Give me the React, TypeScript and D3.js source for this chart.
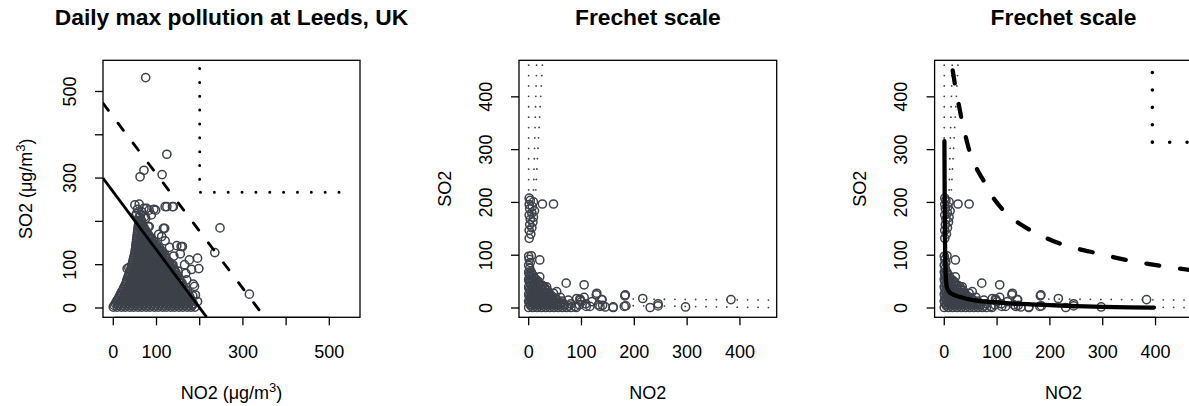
import React from 'react';
import * as d3 from 'd3';

const W = 1189;
const H = 406;
const PT = '#3d4149';
const FONT = '"Liberation Sans", Arial, Helvetica, sans-serif';

// ---------- Panel 1 data (raw scale, NO2 vs SO2) ----------
// dense core, rows: [so2, [no2 values]]
const coreRows1: [number, number[]][] = [
  [2, [0, 9, 19, 28, 38, 47, 57, 66, 76, 85, 95, 104, 114, 123, 133, 142, 152, 161, 171, 180, 189]],
  [10, [5, 14, 24, 33, 43, 52, 62, 71, 81, 90, 100, 109, 119, 128, 138, 147, 157, 166, 176, 185]],
  [18, [9, 19, 28, 38, 47, 57, 66, 76, 85, 95, 104, 114, 123, 133, 142, 152, 161, 171, 181]],
  [26, [14, 24, 33, 43, 52, 62, 71, 81, 90, 100, 109, 119, 128, 138, 147, 157, 167, 177]],
  [34, [18, 28, 37, 47, 56, 66, 75, 85, 94, 104, 113, 123, 132, 142, 151, 161, 172]],
  [42, [23, 32, 42, 51, 61, 70, 80, 89, 99, 108, 118, 127, 137, 146, 156, 167]],
  [50, [26, 36, 45, 55, 64, 74, 83, 93, 102, 112, 121, 131, 140, 150, 162]],
  [58, [30, 40, 49, 59, 68, 78, 87, 97, 106, 116, 125, 135, 144, 153, 159]],
  [66, [32, 42, 51, 61, 70, 80, 89, 99, 108, 118, 127, 137, 146, 154]],
  [74, [35, 45, 54, 64, 73, 83, 92, 102, 111, 121, 130, 140, 149]],
  [82, [38, 48, 57, 67, 76, 86, 95, 105, 114, 124, 133, 145]],
  [90, [41, 50, 60, 69, 79, 88, 98, 107, 117, 126, 135, 141]],
  [98, [43, 53, 62, 72, 81, 91, 100, 110, 119, 128, 136]],
  [106, [45, 55, 64, 74, 83, 93, 102, 112, 121, 130]],
  [114, [47, 56, 66, 75, 85, 94, 104, 113, 122]],
  [122, [49, 58, 68, 77, 87, 96, 106, 114, 120]],
  [130, [51, 60, 70, 79, 89, 98, 107, 114]],
  [138, [52, 62, 71, 81, 90, 99, 107]],
  [146, [53, 63, 72, 82, 91, 100]],
  [154, [54, 64, 73, 83, 94]],
  [162, [55, 65, 74, 84, 88]],
  [170, [56, 66, 75, 81]],
  [178, [57, 67, 76]],
  [186, [58, 66, 71]],
  [194, [59, 67]],
  [202, [58, 65]],
  [210, [60]],
];
const coreRows1b: [number, number[]][] = [
  [6, [2, 12, 21, 31, 40, 50, 59, 69, 78, 88, 97, 107, 116, 126, 135, 145, 154, 164, 173, 183]],
  [14, [7, 16, 26, 35, 45, 54, 64, 73, 83, 92, 102, 111, 121, 130, 140, 149, 159, 168, 178]],
  [22, [12, 21, 31, 40, 50, 59, 69, 78, 88, 97, 107, 116, 126, 135, 145, 154, 164, 175]],
  [30, [16, 26, 35, 45, 54, 64, 73, 83, 92, 102, 111, 121, 130, 140, 149, 159, 170]],
  [38, [20, 30, 39, 49, 58, 68, 77, 87, 96, 106, 115, 125, 134, 144, 153, 163]],
  [46, [24, 34, 43, 53, 62, 72, 81, 91, 100, 110, 119, 129, 138, 148, 158]],
  [54, [28, 38, 47, 57, 66, 76, 85, 95, 104, 114, 123, 133, 142, 152]],
  [62, [31, 41, 50, 60, 69, 79, 88, 98, 107, 117, 126, 136, 145, 152]],
  [70, [34, 43, 53, 62, 72, 81, 91, 100, 110, 119, 129, 138, 147]],
  [78, [37, 46, 56, 65, 75, 84, 94, 103, 113, 122, 132, 141]],
  [86, [40, 49, 59, 68, 78, 87, 97, 106, 116, 125, 134, 141]],
  [94, [42, 52, 61, 71, 80, 90, 99, 109, 118, 127, 135]],
  [102, [44, 54, 63, 73, 82, 92, 101, 111, 120, 129]],
  [110, [46, 56, 65, 75, 84, 94, 103, 113, 122]],
  [118, [48, 57, 67, 76, 86, 95, 105, 114, 121]],
  [126, [50, 59, 69, 78, 88, 97, 106, 114]],
  [134, [51, 61, 70, 80, 89, 98, 107]],
  [142, [52, 62, 71, 81, 90, 99]],
  [150, [53, 63, 72, 82, 92]],
  [158, [54, 64, 73, 83, 89]],
  [166, [55, 65, 74, 82]],
  [174, [56, 66, 75]],
  [182, [57, 65, 71]],
  [190, [58, 66]],
  [198, [59, 65]],
];
// sparse points: [no2, so2]
const sparse1: [number, number][] = [
  [75, 532], [124, 355], [62, 303], [71, 318], [113, 308],
  [50, 238], [60, 240], [56, 228], [71, 230], [77, 230], [83, 226], [94, 228], [98, 226],
  [120, 234], [124, 234], [137, 234], [139, 234], [52, 214], [63, 215], [54, 218], [73, 211],
  [75, 207], [83, 188], [81, 188], [116, 184], [119, 184], [66, 222], [88, 215],
  [247, 185], [235, 128], [315, 32], [198, 91], [160, 142], [147, 144], [176, 111], [181, 89],
  [184, 9], [170, 65], [32, 91], [155, 125], [165, 100], [150, 85], [168, 80], [172, 40],
  [190, 30], [185, 55], [160, 20], [195, 15], [140, 120], [130, 140], [120, 155], [112, 165],
  [105, 170], [138, 100], [155, 60], [195, 115], [188, 50], [184, 28], [157, 142], [36, 93],
];

// ---------- Frechet-scale data (panels 2 and 3) ----------
const coreRowsF: [number, number[]][] = [
  [1, [0, 8, 16, 24, 32, 40, 48, 56, 64, 72, 80]],
  [4, [4, 12, 20, 28, 36, 44, 52, 60, 68, 76]],
  [7, [3, 11, 19, 27, 35, 43, 51, 59, 67]],
  [10, [1, 7, 15, 23, 31, 39, 47, 55, 61]],
  [13, [0, 8, 16, 24, 32, 40, 48, 56, 63]],
  [16, [4, 12, 20, 28, 36, 44, 52]],
  [19, [3, 11, 19, 27, 35, 43, 51]],
  [22, [1, 7, 15, 23, 31, 39, 45]],
  [26, [0, 8, 16, 24, 32, 40]],
  [29, [4, 12, 20, 28, 35]],
  [33, [3, 11, 19, 27, 36]],
  [36, [1, 7, 15, 23, 31]],
  [40, [0, 8, 16, 24, 30]],
  [43, [4, 12, 20, 26]],
  [47, [3, 11, 19]],
  [50, [1, 7, 14, 19]],
  [54, [0, 7, 14]],
  [57, [3, 10]],
  [61, [2, 9]],
  [64, [1, 6]],
  [68, [0, 5]],
  [75, [2]],
];
const sparseF: [number, number][] = [
  [0, 81], [3, 86], [1, 92], [0, 98], [5, 99], [21, 91], [21, 59],
  [1, 132], [4, 140], [1, 147], [6, 152], [2, 158], [8, 163], [3, 168], [9, 172], [1, 176],
  [6, 180], [11, 184], [2, 188], [7, 192], [1, 196], [9, 201], [3, 204], [1, 208],
  [26, 197], [47, 197],
  [71, 47], [105, 44], [129, 28], [138, 16], [183, 25], [216, 18], [184, 4], [230, 1],
  [245, 8], [245, 4], [297, 2], [383, 16], [160, 2], [135, 3], [116, 3], [100, 12],
  [91, 18], [88, 3], [132, 6], [53, 31], [47, 28], [34, 40], [60, 20], [75, 15],
  [80, 8], [96, 6], [108, 8], [120, 12], [140, 5], [145, 2], [105, 20], [98, 15],
  [128, 25], [182, 23], [139, 16], [97, 17], [90, 1], [109, 3], [160, 1], [181, 3],
];

// ---------- axes ----------
const ticks1 = [0, 100, 200, 300, 400, 500];
const tickLabels1 = ['0', '100', '', '300', '', '500'];
const ticksF = [0, 100, 200, 300, 400];
const tickLabelsF = ['0', '100', '200', '300', '400'];

// ---------- reference lines ----------
const solidLine1: [number, number][] = [[-24, 300], [216, -21]];
const dashedLine1: [number, number][] = [[-24, 473], [350, -21]];
const dottedLine1: [number, number][] = [[200, 553], [200, 267], [552, 267]];

const vDotsF: [number, number][][] = [
  [[0, 460], [0, 215]],
  [[15, 460], [9, 215]],
  [[26, 460], [13, 215]],
];
const hDotsF: [number, number][][] = [
  [[198, 17], [470, 15]],
  [[198, 4.5], [470, 0.5]],
];

const solidCurve3: [number, number][] = [
  [0.3, 316], [0.6, 250], [0.9, 200], [1.2, 150], [1.6, 110], [2, 85], [2.6, 66], [3.5, 52],
  [4.5, 42], [6.5, 35], [9, 31], [14, 27], [20, 24], [30, 21], [42, 17.5], [55, 15],
  [75, 12.5], [100, 10.5], [130, 8.5], [162, 7], [200, 5.5], [250, 3.5], [300, 2.2],
  [350, 1.3], [397, 0.8],
];
const dashedCurve3: [number, number][] = [
  [16, 450], [20, 425], [25, 398], [30, 372], [35, 348], [40, 327], [47, 300], [55, 278],
  [65, 257], [74, 242], [90, 213], [111, 186], [135, 165], [162, 148], [190, 134],
  [219, 122], [250, 113], [288, 104], [345, 91], [408, 80], [465, 72],
];
const dottedLine3: [number, number][] = [[394, 446], [394, 314], [480, 314]];

type Pt = [number, number];
const expand = (rows: [number, number[]][]): Pt[] =>
  rows.flatMap(([yv, xs]) => xs.map((xv) => [xv, yv] as Pt));

const points1: Pt[] = [...expand(coreRows1), ...expand(coreRows1b), ...sparse1];
const pointsF: Pt[] = [...expand(coreRowsF), ...sparseF];

interface PanelProps {
  id: string;
  left: number;
  right: number;
  top: number;
  bottom: number;
  xDomain: [number, number];
  yDomain: [number, number];
  title: string;
  xTicks: number[];
  xLabels: string[];
  yTicks: number[];
  yLabels: string[];
  xTitle: React.ReactNode;
  yTitle: React.ReactNode;
  yTitleX: number;
  points: Pt[];
  overlay: (x: d3.ScaleLinear<number, number>, y: d3.ScaleLinear<number, number>) => React.ReactNode;
}

function Panel(p: PanelProps) {
  const x = d3.scaleLinear().domain(p.xDomain).range([p.left, p.right]);
  const y = d3.scaleLinear().domain(p.yDomain).range([p.bottom, p.top]);
  const cx = (p.left + p.right) / 2;
  const cy = (p.top + p.bottom) / 2;
  const tick = 8;
  return (
    <g>
      <defs>
        <clipPath id={p.id}>
          <rect x={p.left} y={p.top} width={p.right - p.left} height={p.bottom - p.top} />
        </clipPath>
      </defs>
      <text x={cx} y={24.5} textAnchor="middle" fontWeight="bold" fontSize={22.8} fontFamily={FONT}>
        {p.title}
      </text>
      <g clipPath={`url(#${p.id})`}>
        {p.points.map((d, i) => (
          <circle key={i} cx={x(d[0])} cy={y(d[1])} r={4.1} fill="none" stroke={PT} strokeWidth={1.5} />
        ))}
        {p.overlay(x, y)}
      </g>
      <rect x={p.left} y={p.top} width={p.right - p.left} height={p.bottom - p.top} fill="none" stroke="#000" strokeWidth={1.3} />
      {p.xTicks.map((t, i) => (
        <g key={'xt' + i}>
          <line x1={x(t)} x2={x(t)} y1={p.bottom} y2={p.bottom + tick} stroke="#000" strokeWidth={1.3} />
          <text x={x(t)} y={358} textAnchor="middle" fontSize={18} fontFamily={FONT}>{p.xLabels[i]}</text>
        </g>
      ))}
      <line x1={x(p.xTicks[0])} x2={x(p.xTicks[p.xTicks.length - 1])} y1={p.bottom} y2={p.bottom} stroke="#000" strokeWidth={1.3} />
      {p.yTicks.map((t, i) => (
        <g key={'yt' + i}>
          <line x1={p.left - tick} x2={p.left} y1={y(t)} y2={y(t)} stroke="#000" strokeWidth={1.3} />
          <text transform={`translate(${p.left - 27.5},${y(t)}) rotate(-90)`} textAnchor="middle" fontSize={18} fontFamily={FONT}>
            {p.yLabels[i]}
          </text>
        </g>
      ))}
      <text x={cx} y={399} textAnchor="middle" fontSize={18} fontFamily={FONT}>{p.xTitle}</text>
      <text transform={`translate(${p.yTitleX},${cy}) rotate(-90)`} textAnchor="middle" fontSize={18} fontFamily={FONT}>
        {p.yTitle}
      </text>
    </g>
  );
}

export default function App() {
  const lin = (x: d3.ScaleLinear<number, number>, y: d3.ScaleLinear<number, number>) =>
    d3.line<Pt>().x((d) => x(d[0])).y((d) => y(d[1]));
  const smooth = (x: d3.ScaleLinear<number, number>, y: d3.ScaleLinear<number, number>) =>
    d3.line<Pt>().x((d) => x(d[0])).y((d) => y(d[1])).curve(d3.curveMonotoneX);

  const frechetDots = (x: d3.ScaleLinear<number, number>, y: d3.ScaleLinear<number, number>) => (
    <g>
      {[...vDotsF, ...hDotsF].map((seg, i) => (
        <path key={i} d={lin(x, y)(seg) || ''} fill="none" stroke={PT} strokeWidth={1.8}
          strokeLinecap="round" strokeDasharray="0 10.4" />
      ))}
    </g>
  );

  const unit = (
    <>
      (μg/m<tspan dy={-7} fontSize={13}>3</tspan><tspan dy={7}>)</tspan>
    </>
  );

  return (
    <svg width={W} height={H} style={{ position: 'absolute', left: 0, top: 0, background: '#fff' }}>
      <rect width={W} height={H} fill="#fff" />
      <Panel
        id="c1" left={103} right={360} top={60.3} bottom={317.3}
        xDomain={[-23.8, 571]} yDomain={[-21.5, 572]}
        title="Daily max pollution at Leeds, UK"
        xTicks={ticks1} xLabels={tickLabels1} yTicks={ticks1} yLabels={tickLabels1}
        xTitle={<>NO2 {unit}</>} yTitle={<>SO2 {unit}</>} yTitleX={31.5}
        points={points1}
        overlay={(x, y) => (
          <g>
            <path d={lin(x, y)(solidLine1) || ''} fill="none" stroke="#000" strokeWidth={2.8} />
            <path d={lin(x, y)(dashedLine1) || ''} fill="none" stroke="#000" strokeWidth={2.8}
              strokeDasharray="9 16" strokeLinecap="round" />
            <path d={lin(x, y)(dottedLine1) || ''} fill="none" stroke="#000" strokeWidth={3}
              strokeDasharray="0 13.85" strokeLinecap="round" />
          </g>
        )}
      />
      <Panel
        id="c2" left={519} right={776.7} top={60.3} bottom={317.3}
        xDomain={[-18.3, 469.6]} yDomain={[-17.6, 469.2]}
        title="Frechet scale"
        xTicks={ticksF} xLabels={tickLabelsF} yTicks={ticksF} yLabels={tickLabelsF}
        xTitle="NO2" yTitle="SO2" yTitleX={450.5}
        points={pointsF}
        overlay={(x, y) => frechetDots(x, y)}
      />
      <Panel
        id="c3" left={934.6} right={1192.3} top={60.3} bottom={317.3}
        xDomain={[-18.3, 469.6]} yDomain={[-17.6, 469.2]}
        title="Frechet scale"
        xTicks={ticksF} xLabels={tickLabelsF} yTicks={ticksF} yLabels={tickLabelsF}
        xTitle="NO2" yTitle="SO2" yTitleX={866.3}
        points={pointsF}
        overlay={(x, y) => (
          <g>
            {frechetDots(x, y)}
            <path d={smooth(x, y)(solidCurve3) || ''} fill="none" stroke="#000" strokeWidth={4.3}
              strokeLinecap="round" strokeLinejoin="round" />
            <path d={smooth(x, y)(dashedCurve3) || ''} fill="none" stroke="#000" strokeWidth={4.3}
              strokeDasharray="13 21" strokeLinecap="round" />
            <path d={lin(x, y)(dottedLine3) || ''} fill="none" stroke="#000" strokeWidth={3.6}
              strokeDasharray="0 17.4" strokeLinecap="round" />
          </g>
        )}
      />
    </svg>
  );
}
